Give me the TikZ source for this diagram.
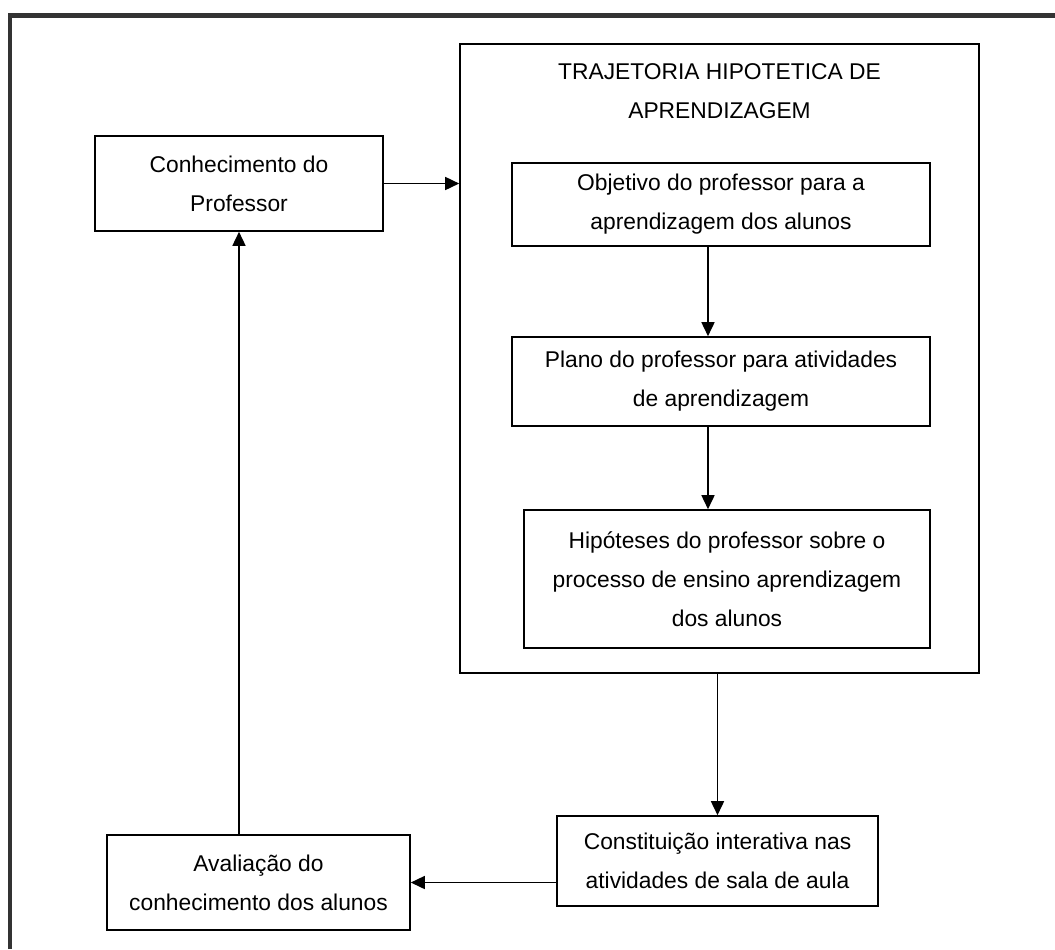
\documentclass[tikz,border=0pt]{standalone}
\usepackage{fontspec}
\setmainfont{Liberation Sans}
\usetikzlibrary{arrows.meta}
\definecolor{FrameGray}{RGB}{51,51,51}
\newcommand{\bxfont}{\fontsize{11.4}{19.5}\selectfont}

\begin{document}
\begin{tikzpicture}[x=0.5pt, y=-0.5pt,
          bx/.style={rectangle, draw, line width=0.8pt, inner sep=0pt,
                     align=center, font=\bxfont},
          arr/.style={-{Triangle[length=7pt, width=6.5pt]}, line width=0.8pt}
        ]
        \useasboundingbox (0,0) rectangle (1055,949);

        % Frame
        \draw[FrameGray, line width=2.25pt] (10,949) -- (10,15.5) -- (1055,15.5);

        % Teacher knowledge
        \node[bx, minimum width=144pt, minimum height=47.5pt]
              (conh) at (239, 183.5) {Conhecimento do\\Professor};

        % Trajectory
        \node[bx, minimum width=259.5pt, minimum height=314.5pt]
              (traj) at (719.5, 358.5) {};
        \node[font=\bxfont, align=center, inner sep=0pt]
              (ttl) at (719.5, 91) {TRAJETORIA HIPOTETICA DE\\APRENDIZAGEM};

        \node[bx, minimum width=209pt, minimum height=41.5pt]
              (obj) at (721, 204.5) {Objetivo do professor para a\\aprendizagem dos alunos};
        \node[bx, minimum width=209pt, minimum height=44.5pt]
              (plano) at (721, 381.5) {Plano do professor para atividades\\de aprendizagem};
        \node[bx, minimum width=203pt, minimum height=69pt]
              (hip) at (727, 579) {Hipóteses do professor sobre o\\processo de ensino aprendizagem\\dos alunos};

        % Classroom
        \node[bx, minimum width=160.5pt, minimum height=45pt]
              (const) at (717.5, 861) {Constituição interativa nas\\atividades de sala de aula};
        \node[bx, minimum width=151.5pt, minimum height=47.5pt]
              (aval) at (258.5, 882.5) {Avaliação do\\conhecimento dos alunos};

        \coordinate (spine) at (708, 0);

        \draw[arr] (conh.east) -- (conh.east -| traj.west);
        \draw[arr] (obj.south -| spine) -- (plano.north -| spine);
        \draw[arr] (plano.south -| spine) -- (hip.north -| spine);
        \draw[arr] (const.north |- traj.south) -- (const.north);
        \draw[arr] (const.west |- aval.east) -- (aval.east);
        \draw[arr] (aval.north -| conh.south) -- (conh.south);
      \end{tikzpicture}
\end{document}
